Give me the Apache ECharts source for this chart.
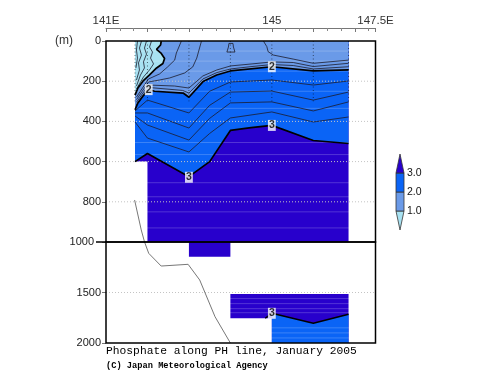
<!DOCTYPE html>
<html><head><meta charset="utf-8">
<script src="https://cdn.jsdelivr.net/npm/echarts@6/dist/echarts.min.js"></script>
<style>html,body{margin:0;padding:0;background:#fff}#c{width:500px;height:387px}</style>
</head><body><div id="c"></div>
<script>
// ---------- data ----------
const lonMin = 141, lonMax = 147.5;
const xTickLabels = {141: '141E', 145: '145', 147.5: '147.5E'};
const depthGridUpper = [200, 400, 600, 800];
const depthGridLower = [1500];
const bandColors = ['#a8e2f2', '#6a9ae8', '#0a64f6', '#2800cc']; // <1, 1-2, 2-3, >3
const legendLevels = [0, 1, 2, 3]; // pieces: <1, 1-2, 2-3, >3
const legendTickLabels = {1: '1.0', 2: '2.0', 3: '3.0'};
const stations = [141.7, 142, 143, 144, 145, 146, 146.85];
const stationDotDepth = 300;
// faint horizontal rendering streaks seen in the fill
const streakDepthsUpper = [50, 100, 150, 250, 335, 505, 565, 705, 775, 850, 930];
const streakDepthsLower = [1560, 1610, 1660, 1700, 1850, 1900, 1950];

// data coverage (lon, depth m)
const coverUpper = [[141.7,0],[146.85,0],[146.85,1000],[142,1000],[142,600],[141.7,600]];
const coverLowerA = [[143,1000],[144,1000],[144,1145],[143,1145]];
const coverLowerB = [[144,1515],[146.85,1515],[146.85,2000],[145,2000],[145,1755],[144,1755]];

// contours (lon, depth m)
const c02 = [[141.759,0],[141.735,45],[141.759,85],[141.722,134]];
const c04 = [[141.856,0],[141.807,35],[141.856,70],[141.783,109],[141.807,144],[141.735,194]];
const c06 = [[141.977,0],[141.928,35],[141.977,65],[141.904,104],[141.928,134],[141.832,169],[141.735,224]];
const c08 = [[142.098,0],[142.05,30],[142.122,55],[142.074,85],[142.147,114],[142.05,144],[141.904,179],[141.735,239]];
const c10 = [[142.333,0],[142.316,20],[142.219,42],[142.333,62],[142.413,87],[142.372,112],[142.22,134],[142.05,169],[141.89,200],[141.77,234],[141.7,269]];
const c12 = [[142.818,0],[142.697,60],[142.656,95],[142.486,129],[142.292,164],[142.025,189],[141.735,279]];
const c14 = [[143.303,0],[143.189,85],[143.092,129],[142.898,159],[142.535,184],[142.292,194],[142.025,204],[141.735,292]];
const c14b = [[144.796,0],[144.879,28],[144.91,53],[145.039,70],[145.516,90],[146.001,111],[146.85,95]];
const bell = [[143.916,55],[143.953,30],[143.965,12],[144.013,6],[144.062,12],[144.074,30],[144.11,55],[143.916,55]];
const c16 = [[141.735,305],[142.025,219],[142.656,224],[143.0,234],[143.335,174],[143.674,144],[144.006,124],[144.522,114],[145.007,104],[145.516,107],[146.001,127],[146.85,111]];
const c18 = [[141.735,318],[142.025,231],[142.85,246],[143.0,259],[143.335,189],[143.674,157],[144.006,139],[144.522,127],[145.007,117],[145.516,122],[146.001,139],[146.85,128]];
const c20 = [[141.7,342],[141.77,308],[141.89,275],[142.03,242],[142.17,250],[142.86,259],[143.0,280],[143.34,202],[143.67,169],[144.0,149],[145.0,128],[146.0,149],[146.85,144]];
const c22 = [[141.7,348],[142,294],[143,358],[143.5,250],[144,204],[145,194],[146,219],[146.85,199]];
const c24 = [[141.7,358],[142,358],[143,433],[143.5,320],[144,254],[145,249],[146,294],[146.85,254]];
const c26 = [[141.7,373],[142,418],[143,493],[143.5,385],[144,308],[145,303],[146,348],[146.85,303]];
const c28 = [[141.7,403],[142,483],[143,552],[143.5,460],[144,383],[145,353],[146,403],[146.85,378]];
const c30 = [[141.7,600],[142,560],[143,675],[143.5,600],[144,445],[144.5,431],[145,420],[146,495],[146.85,510]];
const c30low = [[144.84,1755],[145,1706],[146,1805],[146.85,1716]];

const contourLabels = [[142.03,242,'2'],[145.0,128,'2'],[143.0,678,'3'],[145.0,420,'3']];
const contourLabelsLow = [[145.0,1706,'3']];

// bottom topography
const topo = [[141.69,791],[141.85,940],[141.93,1000],[142.03,1112],[142.33,1238],[142.98,1221],[143.26,1376],[143.63,1740],[144.0,2000]];

// ---------- build ----------
const G = {left:106, top:41, width:269.5, hUp:201, hLow:101};
const topEdge = [[141.7,0],[146.85,0]];
const polyLt3 = topEdge.concat(c30.slice().reverse());
const polyLt2 = topEdge.concat(c20.slice().reverse());
const polyLt1 = [[141.7,0]].concat(c10);
const polyLowLt3 = c30low.slice(1).concat([[146.85,2000],[145,2000]]);

function fill(points, color, gi) {
  return {type:'custom', xAxisIndex:gi, yAxisIndex:gi, silent:true, z:1, clip:true,
    data:[points[0]],
    renderItem:(p, api) => ({type:'polygon', shape:{points: points.map(q => api.coord(q))}, style:{fill: color}})};
}
function line(points, gi, width, color, z) {
  return {type:'line', xAxisIndex:gi, yAxisIndex:gi, data:points, symbol:'none', silent:true,
    z: z || 3, lineStyle:{width: width, color: color}, clip:true};
}
function labels(items, gi) {
  return {type:'scatter', xAxisIndex:gi, yAxisIndex:gi, data:items, symbolSize:1, z:6, silent:true,
    itemStyle:{color:'rgba(0,0,0,0)'},
    label:{show:true, position:'inside', formatter:p => p.value[2], backgroundColor:'#fff',
      color:'#000', fontSize:10.5, fontWeight:'bold', fontFamily:'Liberation Sans', padding:[1,1,0,1], lineHeight:10}};
}
function hlines(depths, gi, stroke, dash, z) {
  return {type:'custom', xAxisIndex:gi, yAxisIndex:gi, silent:true, z:z, clip:true,
    data: depths.map(d => [lonMin, d]),
    renderItem:(p, api) => {
      const a = api.coord([lonMin, api.value(1)]), b = api.coord([lonMax, api.value(1)]);
      return {type:'line', shape:{x1:a[0], y1:a[1], x2:b[0], y2:b[1]},
        style:{stroke:stroke, lineWidth:1, lineDash:dash}};
    }};
}

const thin = [c02,c04,c06,c08,c12,c14,c14b,bell,c16,c18,c22,c24,c26,c28];
const series = [
  fill(coverUpper, bandColors[3], 0),
  fill(polyLt3, bandColors[2], 0),
  fill(polyLt2, bandColors[1], 0),
  fill(polyLt1, bandColors[0], 0),
  fill(coverLowerA, bandColors[3], 1),
  fill(coverLowerB, bandColors[3], 1),
  fill(polyLowLt3, bandColors[2], 1),
  hlines(streakDepthsUpper, 0, 'rgba(255,255,255,0.2)', null, 2),
  hlines(streakDepthsLower, 1, 'rgba(255,255,255,0.2)', null, 2),
  hlines(depthGridUpper, 0, '#c4c4c4', [1,2], 2),
  hlines(depthGridLower, 1, '#c4c4c4', [1,2], 2),
];
thin.forEach(c => series.push(line(c, 0, 0.8, '#1c1c2c')));
[c10, c20, c30].forEach(c => series.push(line(c, 0, 1.7, '#000')));
series.push(line(c30low, 1, 1.5, '#000'));
series.push(line(topo, 0, 1, '#777'));
series.push(line(topo, 1, 1, '#777'));
stations.forEach(s => series.push({type:'line', xAxisIndex:0, yAxisIndex:0, data:[[s,0],[s,stationDotDepth]],
  symbol:'none', silent:true, z:3, lineStyle:{width:1, color:'rgba(0,0,0,0.55)', type:[1,2.5]}}));
series.push(labels(contourLabels, 0));
series.push(labels(contourLabelsLow, 1));
// legend colour bar
series.push({type:'custom', xAxisIndex:2, yAxisIndex:2, silent:true, z:3,
  data: legendLevels.map(i => [0.5, i]),
  renderItem:(p, api) => {
    const i = api.value(1);
    let pts;
    if (i === 0) pts = [[0,1],[1,1],[0.5,0]];
    else if (i === legendLevels.length - 1) pts = [[0,i],[1,i],[0.5,i+1]];
    else pts = [[0,i],[1,i],[1,i+1],[0,i+1]];
    return {type:'polygon', shape:{points: pts.map(q => api.coord(q))},
      style:{fill: bandColors[i], stroke:'#333', lineWidth:0.8}};
  }});

const axisFont = 'Liberation Sans';
const yBreak = G.top + G.hUp;
const option = {
  animation:false,
  backgroundColor:'#fff',
  title:[
    {text:'Phosphate along PH line, January 2005', left:106, top:346, padding:0,
      textStyle:{fontFamily:'Liberation Mono', fontSize:11.3, fontWeight:'normal', color:'#000'}},
    {text:'(C) Japan Meteorological Agency', left:106, top:361, padding:0,
      textStyle:{fontFamily:'Liberation Mono', fontSize:8.7, fontWeight:'bold', color:'#000'}},
    {text:'(m)', left:55, top:35, padding:0,
      textStyle:{fontFamily:axisFont, fontSize:12, fontWeight:'normal', color:'#333'}}
  ],
  graphic:[{type:'line', z:10, shape:{x1:G.left-10, y1:yBreak, x2:G.left, y2:yBreak},
    style:{stroke:'#000', lineWidth:1.5}}],
  grid:[
    {left:G.left, top:G.top, width:G.width, height:G.hUp, show:true, borderColor:'#000', borderWidth:1.5, z:5},
    {left:G.left, top:yBreak, width:G.width, height:G.hLow, show:true, borderColor:'#000', borderWidth:1.5, z:5},
    {left:396, top:154, width:8, height:76}
  ],
  xAxis:[
    {gridIndex:0, type:'value', min:lonMin, max:lonMax, interval:1, position:'top', offset:13, z:10,
      axisLine:{show:true, onZero:false, lineStyle:{color:'#777', width:1}},
      axisTick:{show:true, inside:true, length:4, lineStyle:{color:'#777'}},
      minorTick:{show:true, splitNumber:3, length:3, lineStyle:{color:'#888'}},
      axisLabel:{formatter:v => xTickLabels[v] || '', color:'#333', fontSize:11.5, fontFamily:axisFont,
        margin:1, showMinLabel:true, showMaxLabel:true},
      splitLine:{show:false}},
    {gridIndex:1, type:'value', min:lonMin, max:lonMax, show:false},
    {gridIndex:2, type:'value', min:0, max:1, show:false}
  ],
  yAxis:[
    {gridIndex:0, type:'value', inverse:true, min:0, max:1000, interval:200,
      axisLine:{show:false}, axisTick:{show:true, length:4, lineStyle:{color:'#777'}},
      axisLabel:{color:'#222', fontSize:11, fontFamily:axisFont, margin:5,
        formatter:v => v === 1000 ? '{s|1000}' : String(v),
        rich:{s:{padding:[0,7,0,0], color:'#222', fontSize:11, fontFamily:axisFont}}},
      splitLine:{show:false}},
    {gridIndex:1, type:'value', inverse:true, min:1000, max:2000, interval:500,
      axisLine:{show:false}, axisTick:{show:true, length:4, lineStyle:{color:'#777'}},
      axisLabel:{color:'#222', fontSize:11, fontFamily:axisFont, margin:5,
        formatter:v => v === 1000 ? '' : String(v)},
      splitLine:{show:false}},
    {gridIndex:2, type:'value', min:0, max:4, interval:1, position:'right',
      axisLine:{show:false}, axisTick:{show:false}, splitLine:{show:false},
      axisLabel:{formatter:v => legendTickLabels[v] || '', color:'#111', fontSize:10.5, fontFamily:axisFont, margin:3}}
  ],
  series: series
};

const chart = echarts.init(document.getElementById('c'));
chart.setOption(option);
</script></body></html>
